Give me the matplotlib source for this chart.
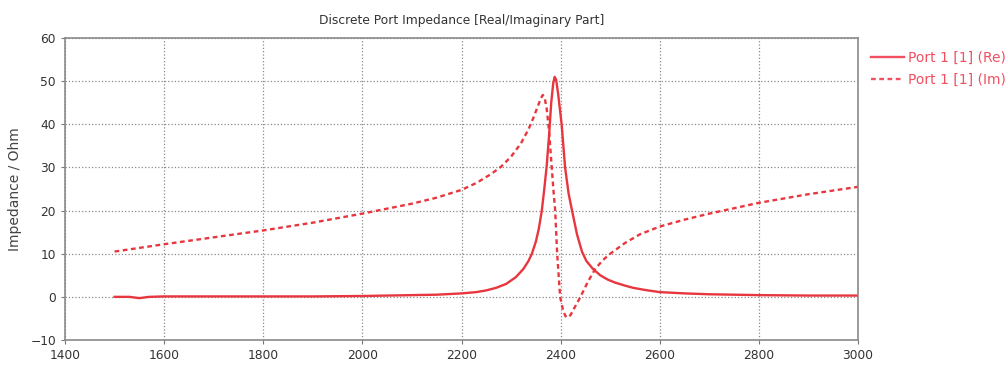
import numpy as np
import matplotlib
matplotlib.use('Agg')
import matplotlib.pyplot as plt

# frequency points and values
re_freq = [1500, 1530, 1550, 1570, 1600, 1700, 1800, 1900, 2000, 2050, 2100, 2150,
           2200, 2230, 2250, 2270, 2290, 2310, 2325, 2335, 2342, 2350, 2356, 2362,
           2367, 2372, 2377, 2381, 2385, 2388, 2391, 2395, 2402, 2409, 2416, 2423,
           2433, 2443, 2452, 2465, 2480, 2495, 2510, 2530, 2546, 2570, 2600, 2650,
           2700, 2800, 2900, 3000]
re_vals = [0.0, 0.0, -0.3, 0.0, 0.1, 0.1, 0.1, 0.1, 0.2, 0.3, 0.4, 0.5,
           0.8, 1.1, 1.5, 2.1, 3.0, 4.6, 6.5, 8.3, 10.0, 12.8, 15.8, 20.0,
           25.0, 30.5, 38.0, 45.0, 49.5, 51.0, 50.3, 47.0, 40.0, 30.0, 24.0, 20.0,
           14.5, 10.5, 8.3, 6.5, 5.0, 4.0, 3.3, 2.6, 2.1, 1.6, 1.1, 0.8,
           0.6, 0.4, 0.3, 0.3]

im_freq = [1500, 1600, 1700, 1800, 1900, 2000, 2100, 2150, 2200, 2230, 2260, 2280,
           2300, 2320, 2335, 2345, 2355, 2360, 2364, 2368, 2372, 2377, 2382, 2386,
           2389, 2393, 2399, 2405, 2410, 2415, 2420, 2428, 2440, 2455, 2470, 2485,
           2500, 2530, 2560, 2600, 2650, 2700, 2800, 2900, 3000]
im_vals = [10.5, 12.2, 13.8, 15.4, 17.2, 19.3, 21.6, 23.0, 24.8, 26.4, 28.5, 30.2,
           32.5, 35.6, 38.8, 41.5, 44.5, 46.0, 46.8, 46.0, 43.5, 38.0, 30.0, 24.0,
           20.0, 10.0, 0.0, -3.2, -4.5, -4.8, -4.2, -2.5, 0.0, 3.5, 6.5, 8.5,
           10.0, 12.5, 14.5, 16.3, 17.9, 19.3, 21.8, 23.8, 25.5]

x_ticks = [1400, 1600, 1800, 2000, 2200, 2400, 2600, 2800, 3000]
y_ticks = [-10, 0, 10, 20, 30, 40, 50, 60]

red = '#e8363f'
plt.rcParams['font.family'] = ['DejaVu Sans']

fig = plt.figure(figsize=(10.08, 3.73), dpi=100)
ax = fig.add_axes([0.0645, 0.0885, 0.7867, 0.8095])

ax.plot(re_freq, re_vals, color=red, linewidth=1.7, label='Port 1 [1] (Re)')
ax.plot(im_freq, im_vals, color=red, linewidth=1.7, linestyle=(0, (2, 1.5)),
        label='Port 1 [1] (Im)')

ax.set_xlim(1400, 3000)
ax.set_ylim(-10, 60)
ax.set_xticks(x_ticks)
ax.set_yticks(y_ticks)
ax.grid(True, color='#8a8a8a', linestyle=':', linewidth=0.9)
ax.tick_params(labelsize=8.8, length=3, color='#777777', labelcolor='#333333')
for s in ax.spines.values():
    s.set_color('#8a8a8a')
    s.set_linewidth(1.2)

ax.set_ylabel('Impedance / Ohm', fontsize=10, color='#444444', labelpad=6)
ax.set_title('Discrete Port Impedance [Real/Imaginary Part]', fontsize=8.8,
             color='#333333', pad=10)

leg = ax.legend(loc='upper left', bbox_to_anchor=(1.0, 1.0), frameon=False,
                fontsize=10, handlelength=2.4, handletextpad=0.3,
                borderaxespad=0.5, labelspacing=0.6)
for t in leg.get_texts():
    t.set_color('#f05060')
for h in leg.get_lines():
    h.set_color('#f05060')

fig.savefig('out.png', dpi=100)
